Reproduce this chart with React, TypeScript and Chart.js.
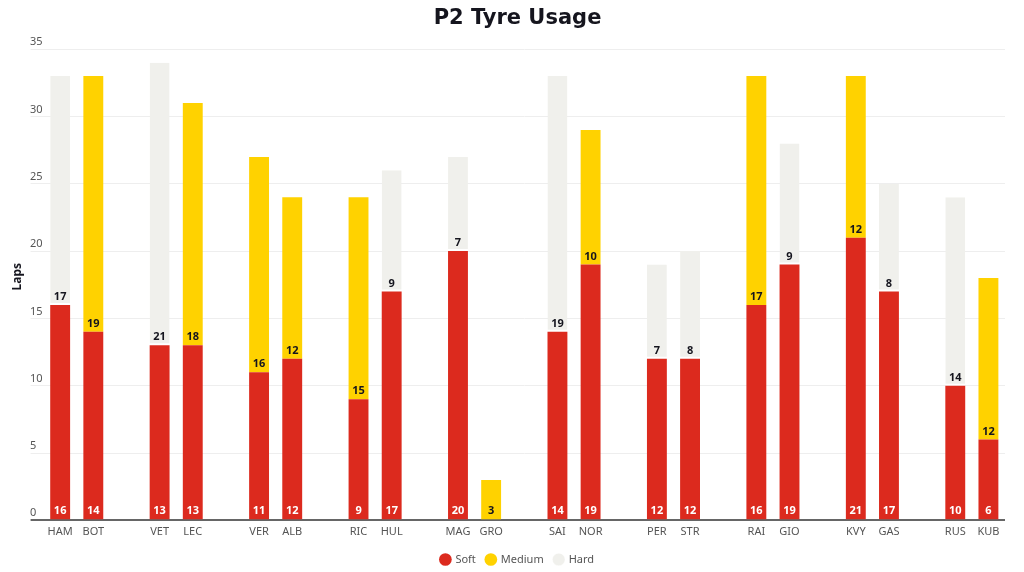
import { useEffect, useRef } from "react"
import { Chart, registerables } from "chart.js"

Chart.register(...registerables)

// empty strings are the spacer slots between teams
const drivers = [
  "HAM", "BOT", "", "VET", "LEC", "", "VER", "ALB", "", "RIC", "HUL", "",
  "MAG", "GRO", "", "SAI", "NOR", "", "PER", "STR", "", "RAI", "GIO", "",
  "KVY", "GAS", "", "RUS", "KUB",
]
const softLaps = [
  16, 14, null, 13, 13, null, 11, 12, null, 9, 17, null,
  20, null, null, 14, 19, null, 12, 12, null, 16, 19, null,
  21, 17, null, 10, 6,
]
const mediumLaps = [
  null, 19, null, null, 18, null, 16, 12, null, 15, null, null,
  null, 3, null, null, 10, null, null, null, null, 17, null, null,
  12, null, null, null, 12,
]
const hardLaps = [
  17, null, null, 21, null, null, null, null, null, null, 9, null,
  7, null, null, 19, null, null, 7, 8, null, null, 9, null,
  null, 8, null, 14, null,
]
const yMax = 35
const yStep = 5

const SOFT = "#dc2a1e"
const MEDIUM = "#ffd200"
const HARD = "#f0f0ec"
const FONT = "'Noto Sans', sans-serif"

// lap count at the foot of every segment
const segmentLabels = {
  id: "segmentLabels",
  afterDatasetsDraw(chart: Chart) {
    const { ctx } = chart
    ctx.save()
    ctx.font = `bold 11px ${FONT}`
    ctx.textAlign = "center"
    ctx.textBaseline = "middle"
    chart.data.datasets.forEach((ds, i) => {
      const meta = chart.getDatasetMeta(i)
      meta.data.forEach((bar: any, j) => {
        const v = ds.data[j] as number | null
        if (!v) return
        const { x, base } = bar.getProps(["x", "base"], true)
        ctx.fillStyle = i === 0 ? "#ffffff" : "#15151e"
        ctx.fillText(String(v), x, base - 8)
      })
    })
    ctx.restore()
  },
}

const yTitle = {
  id: "yTitle",
  afterDraw(chart: Chart) {
    const { ctx, chartArea } = chart
    ctx.save()
    ctx.translate(18, (chartArea.top + chartArea.bottom) / 2 - 8)
    ctx.rotate(-Math.PI / 2)
    ctx.font = `bold 12px ${FONT}`
    ctx.fillStyle = "#15151e"
    ctx.textAlign = "center"
    ctx.textBaseline = "middle"
    ctx.fillText("Laps", 0, 0)
    ctx.restore()
  },
}

export default function App() {
  const chartRef = useRef<HTMLCanvasElement>(null)
  const chartInstance = useRef<Chart | null>(null)

  useEffect(() => {
    document.body.style.margin = "0"
    if (!chartRef.current) return
    if (chartInstance.current) chartInstance.current.destroy()

    chartInstance.current = new Chart(chartRef.current, {
      type: "bar",
      data: {
        labels: drivers,
        datasets: [
          { label: "Soft", data: softLaps, backgroundColor: SOFT, borderWidth: 0 },
          { label: "Medium", data: mediumLaps, backgroundColor: MEDIUM, borderWidth: 0 },
          {
            label: "Hard",
            data: hardLaps,
            backgroundColor: HARD,
            borderColor: "#ffffff",
            borderSkipped: false,
            borderWidth: { top: 0, left: 0, right: 0, bottom: 2 },
          },
        ],
      },
      options: {
        animation: false,
        responsive: true,
        maintainAspectRatio: false,
        layout: { padding: { left: 30, right: 19, top: 4, bottom: -3 } },
        datasets: { bar: { categoryPercentage: 1, barPercentage: 0.6 } },
        scales: {
          x: {
            stacked: true,
            grid: { display: false, drawTicks: false },
            border: { display: false },
            ticks: { color: "#555", font: { family: FONT, size: 11 }, padding: 5, autoSkip: false, maxRotation: 0 },
          },
          y: {
            stacked: true,
            min: 0,
            max: yMax,
            border: { display: false },
            grid: {
              color: (c: any) => (c.tick && c.tick.value === 0 ? "#666666" : "#eeeeee"),
              lineWidth: (c: any) => (c.tick && c.tick.value === 0 ? 2 : 1),
              tickLength: 13,
            },
            ticks: {
              stepSize: yStep,
              color: "#555",
              font: { family: FONT, size: 11 },
              crossAlign: "far",
              padding: -6,
              labelOffset: -7,
            },
          },
        },
        plugins: {
          title: {
            display: true,
            text: "P2 Tyre Usage",
            color: "#15151e",
            font: { family: "'DejaVu Sans', sans-serif", size: 21, weight: "bold" },
            padding: { top: 2, bottom: 18 },
          },
          legend: {
            position: "bottom",
            labels: {
              usePointStyle: true,
              pointStyle: "circle",
              boxWidth: 9,
              boxHeight: 9,
              padding: 10.5,
              color: "#555",
              font: { family: FONT, size: 11 },
            },
          },
          tooltip: { enabled: false },
        },
      },
      plugins: [segmentLabels, yTitle],
    })

    return () => {
      if (chartInstance.current) {
        chartInstance.current.destroy()
        chartInstance.current = null
      }
    }
  }, [])

  return (
    <div style={{ width: 1024, height: 572, position: "relative" }}>
      <canvas ref={chartRef} />
    </div>
  )
}
